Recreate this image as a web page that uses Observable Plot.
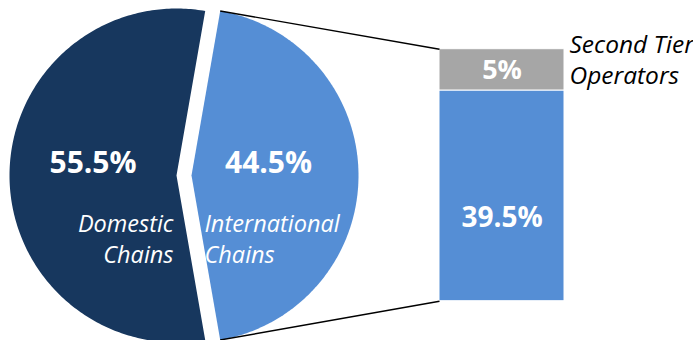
<!DOCTYPE html>
<html><head><meta charset="utf-8">
<script src="https://cdn.jsdelivr.net/npm/d3@7"></script>
<script src="https://cdn.jsdelivr.net/npm/@observablehq/plot@0.6"></script>
<style>
html,body{margin:0;padding:0;background:#fff;}
#chart{position:relative;width:693px;height:340px;overflow:hidden;}
#chart svg{position:absolute;left:0;top:0;}
</style></head><body><div id="chart"></div>
<script>
// ---- data ----
const pieCategories = ["International Chains", "Domestic Chains"];
const pieValues = [44.5, 55.5];
const pieLabels = ["44.5%", "55.5%"];
const pieNames = ["International\nChains", "Domestic\nChains"];

const barCategories = ["International Chains", "Second Tier Operators"];
const barValues = [39.5, 5];
const barLabels = ["39.5%", "5%"];
const barNames = ["", "Second Tier\nOperators"];

// ---- styles / layout ----
const navy = "#17375E", blue = "#558ED5", gray = "#A6A6A6";
const font = "'Open Sans', sans-serif";
const W = 693, H = 340;
const cx = 176, cy = 175, R = 167, explode = 15;

// ---- bar of pie ----
const group = barCategories[0];
const barData = barCategories.map((c, i) => ({group, category: c, value: barValues[i], label: barLabels[i], name: barNames[i]}));
const total = d3.sum(barValues);

const barPlot = Plot.plot({
  width: W, height: H, margin: 0,
  style: {background: "transparent", fontFamily: font, overflow: "visible"},
  x: {type: "band", domain: [group], range: [439, 564], padding: 0, axis: null},
  y: {type: "linear", domain: [0, barValues[0], total], range: [300.7, 90, 48.7], axis: null},
  color: {domain: barCategories, range: [blue, gray]},
  marks: [
    Plot.barY(barData, {x: "group", y: "value", fill: "category", stroke: "white", strokeWidth: 1}),
    Plot.text(barData, Plot.stackY({x: "group", y: "value",
      text: d => d.category === barCategories[0] ? d.label : null,
      fill: "white", fontWeight: "bold", fontSize: 28, dy: 22})),
    Plot.text(barData, Plot.stackY({x: "group", y: "value",
      text: d => d.category === barCategories[1] ? d.label : null,
      fill: "white", fontWeight: "bold", fontSize: 27, dy: 1})),
    Plot.text(barData, Plot.stackY2({x: "group", y: "value",
      text: d => d.name || null,
      textAnchor: "start", lineAnchor: "top", dx: 67.5, dy: -18.2,
      fontStyle: "italic", fontSize: 24.5, lineHeight: 1.265, fill: "black"}))
  ]
});

// ---- pie ----
const startAngle = Math.PI / 2 - Math.PI * pieValues[0] / 100;
const arcs = d3.pie().sort(null).startAngle(startAngle).endAngle(startAngle + 2 * Math.PI)(pieValues);
const slices = arcs.map((a, i) => {
  const mid = (a.startAngle + a.endAngle) / 2;
  const off = i === 0 ? explode : 0;
  const ox = cx + off * Math.sin(mid), oy = cy - off * Math.cos(mid);
  return {category: pieCategories[i], a0: a.startAngle, a1: a.endAngle, mid, ox, oy,
          label: pieLabels[i], name: pieNames[i],
          lx: ox + 0.5 * R * Math.sin(mid), ly: oy - 0.5 * R * Math.cos(mid)};
});
const piePts = [];
for (const s of slices) {
  piePts.push({category: s.category, x: s.ox, y: s.oy});
  const n = 240;
  for (let k = 0; k <= n; k++) {
    const t = s.a0 + (s.a1 - s.a0) * k / n;
    piePts.push({category: s.category, x: s.ox + R * Math.sin(t), y: s.oy - R * Math.cos(t)});
  }
  piePts.push({category: s.category, x: s.ox, y: s.oy});
}

const bx = barPlot.scale("x"), by = barPlot.scale("y");
const s0 = slices[0];
const xLeft = bx.apply(group);
const connectors = [
  {x1: s0.ox + R * Math.sin(s0.a0), y1: s0.oy - R * Math.cos(s0.a0), x2: xLeft, y2: by.apply(total)},
  {x1: s0.ox + R * Math.sin(s0.a1), y1: s0.oy - R * Math.cos(s0.a1), x2: xLeft, y2: by.apply(0)}
];

const piePlot = Plot.plot({
  width: W, height: H, margin: 0,
  style: {background: "transparent", fontFamily: font},
  x: {type: "linear", domain: [0, W], range: [0, W], axis: null},
  y: {type: "linear", domain: [0, H], range: [0, H], axis: null},
  color: {domain: pieCategories, range: [blue, navy]},
  marks: [
    Plot.line(piePts, {x: "x", y: "y", z: "category", fill: "category", stroke: "none"}),
    Plot.link(connectors, {x1: "x1", y1: "y1", x2: "x2", y2: "y2", stroke: "black", strokeWidth: 1.4}),
    Plot.text(slices.filter(s => s.category === pieCategories[1]), {x: "lx", y: "ly", text: "label",
      fill: "white", fontWeight: "bold", fontSize: 30, dy: -12.6}),
    Plot.text(slices.filter(s => s.category === pieCategories[0]), {x: "lx", y: "ly", text: "label",
      fill: "white", fontWeight: "bold", fontSize: 30, dx: -6.5, dy: -12.6}),
    Plot.text(slices.filter(s => s.category === pieCategories[1]), {x: "ox", y: "oy", text: "name",
      fill: "white", fontStyle: "italic", fontSize: 23.5, lineHeight: 1.33,
      textAnchor: "end", lineAnchor: "top", dx: -3, dy: 34.5}),
    Plot.text(slices.filter(s => s.category === pieCategories[0]), {x: "ox", y: "oy", text: "name",
      fill: "white", fontStyle: "italic", fontSize: 23.5, lineHeight: 1.33,
      textAnchor: "start", lineAnchor: "top", dx: 13, dy: 34.5})
  ]
});

const chart = document.getElementById("chart");
chart.appendChild(barPlot);
chart.appendChild(piePlot);
</script></body></html>
